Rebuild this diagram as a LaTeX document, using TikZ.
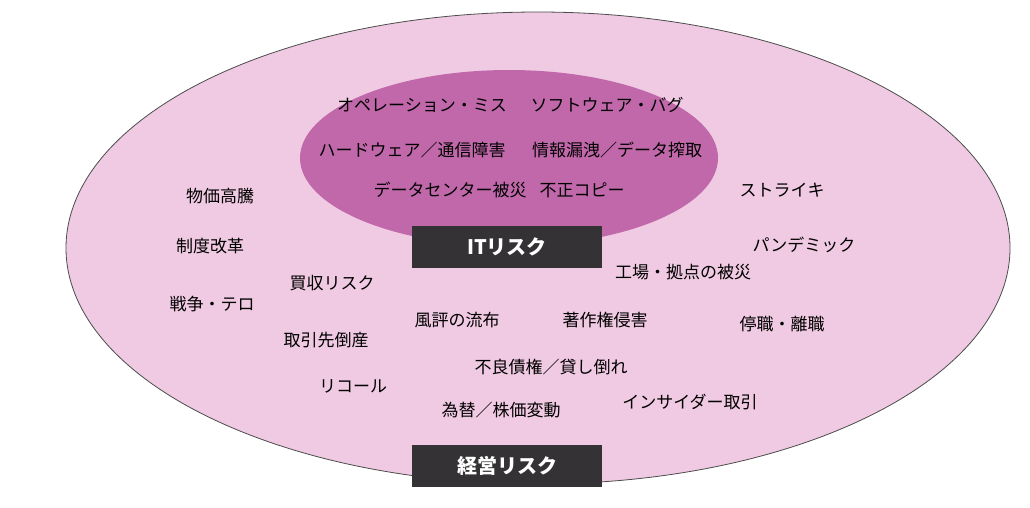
\documentclass[tikz,border=0pt]{standalone}
\usepackage{fontspec}
\setmainfont{Noto Sans CJK JP}
\definecolor{outerpink}{RGB}{240,202,226}
\definecolor{innerpink}{RGB}{192,104,170}
\definecolor{boxgray}{RGB}{52,50,52}
\begin{document}
\begin{tikzpicture}[x=1pt,y=-1pt,
  lbl/.style={font=\fontsize{17}{19}\selectfont,inner sep=0pt},
  tag/.style={fill=boxgray,text=white,font=\fontsize{20}{23}\selectfont\bfseries,minimum width=190pt,minimum height=42pt,inner sep=0pt}]
\useasboundingbox (0,0) rectangle (1030,507);
\draw[fill=outerpink,draw=black!70,line width=0.8pt] (538,248) ellipse [x radius=472,y radius=236];
\fill[innerpink] (509,158) ellipse [x radius=209,y radius=88];
\node[tag] (it) at (507,247) {ITリスク};
\node[tag] (keiei) at (507,466) {経営リスク};
\node[lbl] (a1) at (422,105) {オペレーション・ミス};
\node[lbl] (a2) at (607,105) {ソフトウェア・バグ};
\node[lbl] (a3) at (412,150) {ハードウェア／通信障害};
\node[lbl] (a4) at (617,150) {情報漏洩／データ搾取};
\node[lbl] (a5) at (450,190) {データセンター被災};
\node[lbl] (a6) at (582,190) {不正コピー};
\node[lbl] (b1) at (220,196) {物価高騰};
\node[lbl] (b2) at (210,246) {制度改革};
\node[lbl] (b3) at (212,304) {戦争・テロ};
\node[lbl] (b4) at (332,283) {買収リスク};
\node[lbl] (b5) at (326,340) {取引先倒産};
\node[lbl] (b6) at (353,386) {リコール};
\node[lbl] (b7) at (457,320) {風評の流布};
\node[lbl] (b8) at (605,320) {著作権侵害};
\node[lbl] (b9) at (551,367) {不良債権／貸し倒れ};
\node[lbl] (b10) at (501,410) {為替／株価変動};
\node[lbl] (b11) at (690,402) {インサイダー取引};
\node[lbl] (b12) at (683,272) {工場・拠点の被災};
\node[lbl] (b13) at (782,190) {ストライキ};
\node[lbl] (b14) at (804,245) {パンデミック};
\node[lbl] (b15) at (782,324) {停職・離職};
\end{tikzpicture}
\end{document}
